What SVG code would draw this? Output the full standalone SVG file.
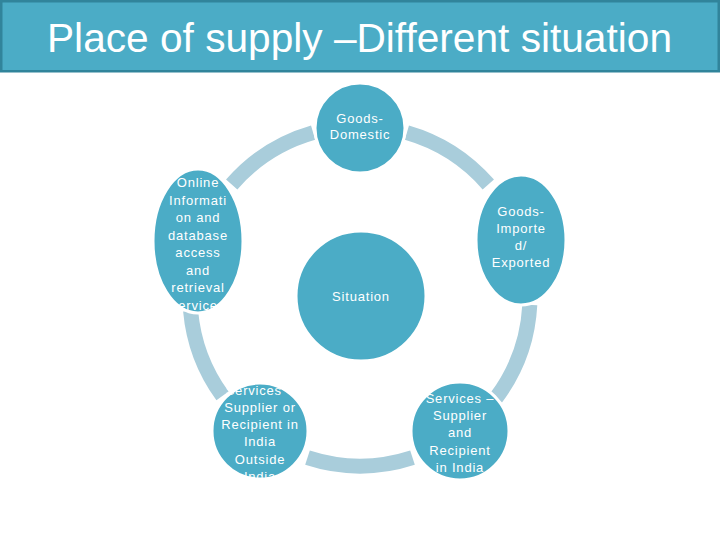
<svg xmlns="http://www.w3.org/2000/svg" width="720" height="540" viewBox="0 0 720 540">
<style>
.node{fill:#4BACC6;stroke:#FFFFFF;stroke-width:3}
.arc{fill:none;stroke:#A9CDDB;stroke-width:15;stroke-linecap:butt}
.t{font-family:"Liberation Sans",Arial,sans-serif;font-size:13px;fill:#FFFFFF;text-anchor:middle;letter-spacing:0.8px}
.title{font-family:"Liberation Sans",Arial,sans-serif;font-size:40px;fill:#FFFFFF}
</style>
<rect width="720" height="540" fill="#FFFFFF"/>
<g id="title">
<rect x="1.25" y="1.25" width="717.5" height="70" fill="#4BACC6" stroke="#31849B" stroke-width="2.5"/>
<text class="title" x="47" y="52" textLength="625" lengthAdjust="spacingAndGlyphs">Place of supply –Different situation</text>
</g>
<g id="connectors">
<path class="arc" d="M406.9 132.6 A170 170 0 0 1 488.3 184.5"/>
<path class="arc" d="M529.8 304.9 A170 170 0 0 1 495.8 398.3"/>
<path class="arc" d="M412.5 457.7 A170 170 0 0 1 307.5 457.7"/>
<path class="arc" d="M222.5 395.9 A170 170 0 0 1 190.6 310.8"/>
<path class="arc" d="M231.7 184.5 A170 170 0 0 1 313.1 132.6"/>
</g>
<g id="situation">
<circle class="node" cx="361" cy="296" r="65"/>
<text class="t" x="361" y="301">Situation</text>
</g>
<g id="goods-domestic">
<circle class="node" cx="360" cy="128" r="45"/>
<text class="t" x="360" y="123">Goods-</text>
<text class="t" x="360" y="139">Domestic</text>
</g>
<g id="goods-imported">
<ellipse class="node" cx="521" cy="240" rx="45" ry="65"/>
<text class="t" x="521" y="216">Goods-</text>
<text class="t" x="521" y="233">Importe</text>
<text class="t" x="521" y="250">d/</text>
<text class="t" x="521" y="267">Exported</text>
</g>
<g id="services-in-india">
<circle class="node" cx="460" cy="431" r="49"/>
<text class="t" x="460" y="403">Services –</text>
<text class="t" x="460" y="420">Supplier</text>
<text class="t" x="460" y="437">and</text>
<text class="t" x="460" y="454.5">Recipient</text>
<text class="t" x="460" y="472">in India</text>
</g>
<g id="services-outside">
<circle class="node" cx="260" cy="431" r="48"/>
<text class="t" x="260" y="394.5">Services –</text>
<text class="t" x="260" y="411.7">Supplier or</text>
<text class="t" x="260" y="429">Recipient in</text>
<text class="t" x="260" y="446.3">India</text>
<text class="t" x="260" y="463.5">Outside</text>
<text class="t" x="260" y="480.8">India</text>
</g>
<g id="online">
<ellipse class="node" cx="198" cy="241" rx="45" ry="72"/>
<text class="t" x="198" y="187">Online</text>
<text class="t" x="198" y="204.5">Informati</text>
<text class="t" x="198" y="222">on and</text>
<text class="t" x="198" y="239.5">database</text>
<text class="t" x="198" y="257">access</text>
<text class="t" x="198" y="274.5">and</text>
<text class="t" x="198" y="292">retrieval</text>
<text class="t" x="198" y="309.5">services</text>
</g>
</svg>
